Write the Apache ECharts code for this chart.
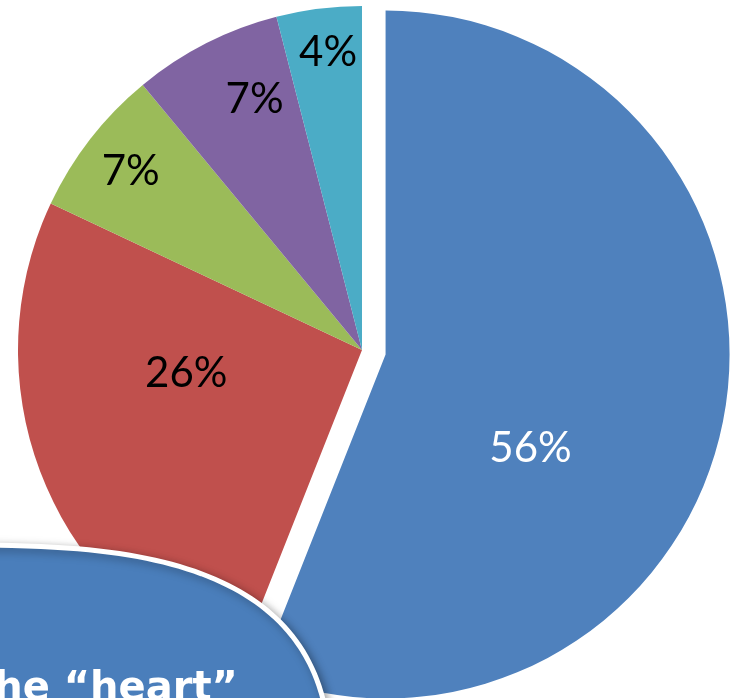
<!DOCTYPE html>
<html>
<head>
<meta charset="utf-8">
<script src="https://cdn.jsdelivr.net/npm/echarts@6/dist/echarts.min.js"></script>
<style>
  html, body { margin: 0; padding: 0; background: #fff; }
  #share_pie { width: 731px; height: 698px; }
</style>
</head>
<body>
<div id="share_pie"></div>
<script>
var names = ['A', 'B', 'C', 'D', 'E'];
var values = [56, 26, 7, 7, 4];
var colors = ['#4F81BD', '#C0504D', '#9BBB59', '#8064A2', '#4BACC6'];
var labelColors = ['#ffffff', '#000000', '#000000', '#000000', '#000000'];
// nudges so labels sit where the original put them
var labelShift = [[-27, 61], [-13, -41], [-93, -71], [-28, -95], [-12, -124]];

// rounded callout shape in the bottom-left corner (superellipse outline)
function calloutPoints(cx, cy, a, b, n) {
    var pts = [];
    for (var i = 0; i < 240; i++) {
        var t = i / 240 * Math.PI * 2;
        var c = Math.cos(t), s = Math.sin(t);
        pts.push([
            cx + a * (c < 0 ? -1 : 1) * Math.pow(Math.abs(c), 2 / n),
            cy + b * (s < 0 ? -1 : 1) * Math.pow(Math.abs(s), 2 / n)
        ]);
    }
    return pts;
}

var share_pie = echarts.init(document.getElementById('share_pie'));
var option = {
    animation: false,
    series : [
        {
            type: 'pie',
            center: [362, 350],
            radius: 344,
            startAngle: 90,
            clockwise: true,
            selectedMode: 'single',
            selectedOffset: 24,
            avoidLabelOverlap: false,
            labelLine: { show: false },
            emphasis: { disabled: true },
            label: {
                show: true,
                position: 'inside',
                formatter: '{c}%',
                fontFamily: 'Lato',
                fontSize: 42
            },
            data: values.map(function (v, i) {
                return {
                    value: v,
                    name: names[i],
                    selected: i === 0,
                    itemStyle: { color: colors[i] },
                    label: { color: labelColors[i], offset: labelShift[i] },
                    select: {
                        itemStyle: { color: colors[i] },
                        label: { color: labelColors[i], offset: labelShift[i] }
                    }
                };
            })
        }
    ],
    graphic: [
        {
            type: 'polygon',
            z: 100,
            shape: { points: calloutPoints(-60, 805, 392, 260, 3) },
            style: {
                fill: '#4A7EBB',
                stroke: '#ffffff',
                lineWidth: 5,
                shadowBlur: 10,
                shadowColor: 'rgba(0,0,0,0.35)',
                shadowOffsetX: 3,
                shadowOffsetY: 3
            }
        },
        {
            type: 'text',
            z: 101,
            x: -33,
            y: 670,
            style: {
                text: 'The \u201Cheart\u201D',
                fill: '#ffffff',
                font: 'bold 40px "DejaVu Sans"',
                verticalAlign: 'top'
            }
        }
    ]
};
share_pie.setOption(option);

window.onresize = share_pie.resize;
</script>
</body>
</html>
